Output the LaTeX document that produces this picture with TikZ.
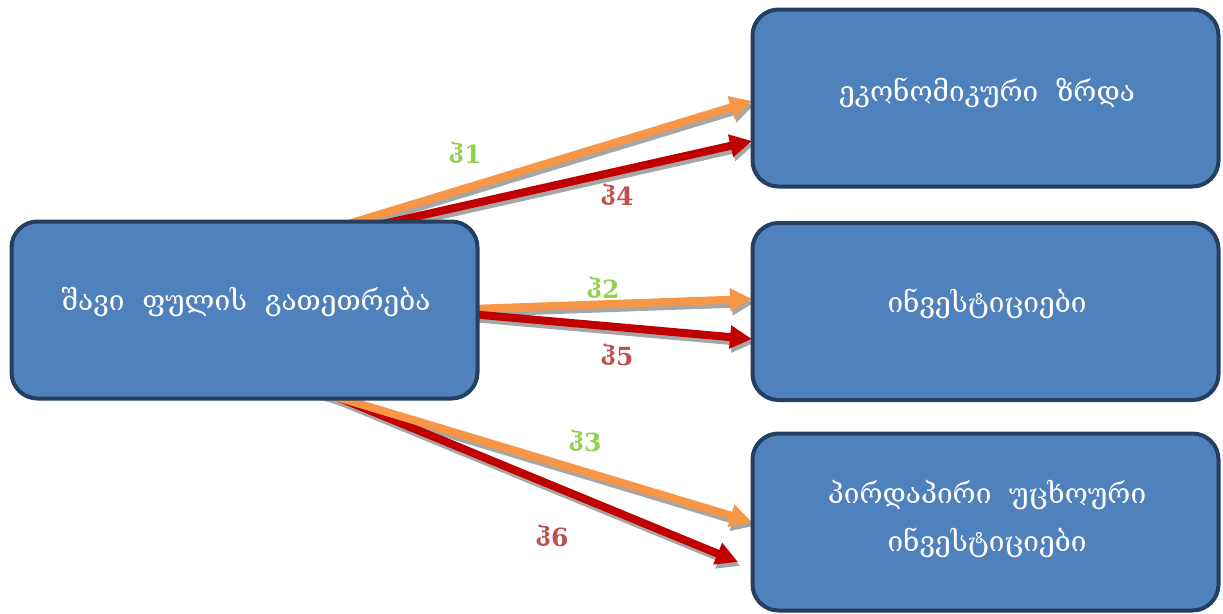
\documentclass[tikz,border=0pt]{standalone}
\usepackage{fontspec}
\setmainfont{DejaVu Serif}
\usetikzlibrary{arrows.meta}
\definecolor{boxfill}{HTML}{4F81BD}
\definecolor{boxline}{HTML}{243F60}
\definecolor{arrO}{HTML}{F79646}
\definecolor{arrR}{HTML}{C00000}
\definecolor{labG}{HTML}{92D050}
\definecolor{labR}{HTML}{C0504D}
\tikzset{
  box/.style={draw=boxline, line width=4pt, fill=boxfill, rounded corners=26pt,
    minimum width=466pt, minimum height=177pt, inner sep=0pt},
  boxtext/.style={text=white, font=\fontsize{28}{48}\selectfont, align=center, inner sep=0pt},
  arrbase/.style={line width=8pt, -{Triangle[length=22pt,width=22pt]}},
  shadowarr/.style={arrbase, draw=gray!70, color=gray!70},
  orarr/.style={arrbase, draw=arrO, color=arrO},
  rdarr/.style={arrbase, draw=arrR, color=arrR},
  labg/.style={text=labG, font=\bfseries\fontsize{25}{30}\selectfont},
  labr/.style={text=labR, font=\bfseries\fontsize{25}{30}\selectfont}
}
\begin{document}
\begin{tikzpicture}[x=1pt,y=-1pt]
\useasboundingbox (0,0) rectangle (1223,613);
% start coordinates (just inside the source box)
\coordinate (s1) at (335,228);
\coordinate (s4) at (365,228);
\coordinate (s2) at (470,309);
\coordinate (s5) at (470,314);
\coordinate (s3) at (320,392);
\coordinate (s6) at (325,392);
% end coordinates
\coordinate (e1) at (752,101);
\coordinate (e4) at (752,141);
\coordinate (e2) at (752,299);
\coordinate (e5) at (752,339);
\coordinate (e3) at (752,522);
\coordinate (e6) at (738,562);
% shadows
\foreach \a/\b in {s1/e1,s4/e4,s2/e2,s5/e5,s3/e3,s6/e6}
  \draw[shadowarr] ([xshift=2pt,yshift=-4pt]\a) -- ([xshift=2pt,yshift=-4pt]\b);
% arrows
\draw[orarr] (s1) -- (e1);
\draw[rdarr] (s4) -- (e4);
\draw[orarr] (s2) -- (e2);
\draw[rdarr] (s5) -- (e5);
\draw[rdarr] (s6) -- (e6);
\draw[orarr] (s3) -- (e3);
% boxes
\node[box] (src) at (244.5,310) {};
\node[box] (t1) at (985.5,98) {};
\node[box] (t2) at (985.5,311.5) {};
\node[box] (t3) at (985.5,522) {};
\node[boxtext] (srctext) at (246,302) {შავი\ \ ფულის\ \ გათეთრება};
\node[boxtext] (t1text) at (987,93) {ეკონომიკური\ \ ზრდა};
\node[boxtext] (t2text) at (987,304) {ინვესტიციები};
\node[boxtext] (t3text) at (987,519) {პირდაპირი\ \ უცხოური\\ინვესტიციები};
% labels
\node[labg] (h1) at (465,153) {ჰ1};
\node[labr] (h4) at (617,195) {ჰ4};
\node[labg] (h2) at (603,288) {ჰ2};
\node[labr] (h5) at (617,355) {ჰ5};
\node[labg] (h3) at (585,441) {ჰ3};
\node[labr] (h6) at (552,536) {ჰ6};
\end{tikzpicture}
\end{document}
